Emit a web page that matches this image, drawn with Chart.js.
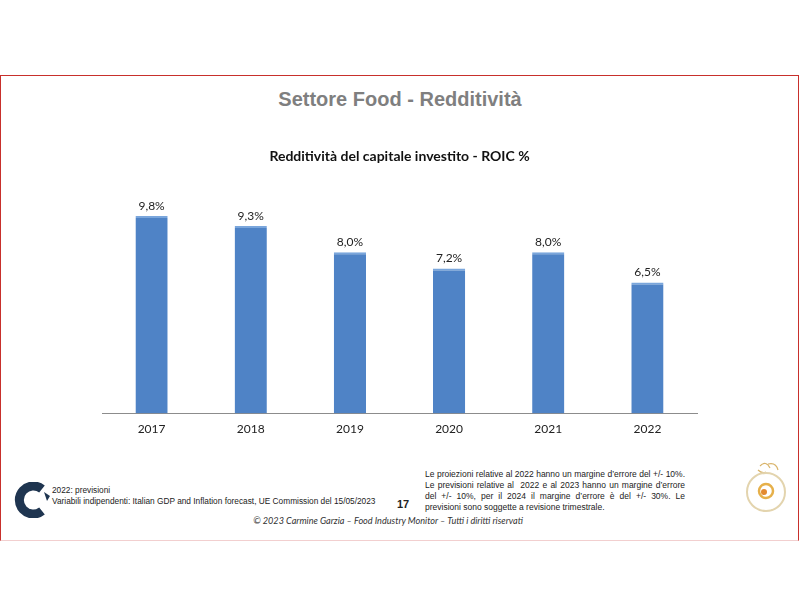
<!DOCTYPE html>
<html>
  <head>
    <title>Settore Food - Redditività</title>
    <script src="https://cdn.jsdelivr.net/npm/chart.js"></script>
    <style>
      body {
        margin: 0;
        width: 800px;
        height: 600px;
        background: #ffffff;
        position: relative;
        overflow: hidden;
        font-family: "Liberation Sans", Arial, sans-serif;
      }

      #frame {
        position: absolute;
        left: 0;
        top: 75px;
        width: 797px;
        height: 464px;
        border: 1.5px solid #c8302c;
        border-bottom-color: #f2cfcf;
      }

      #slideTitle {
        position: absolute;
        left: 0;
        top: 88px;
        width: 800px;
        text-align: center;
        font-size: 20px;
        font-weight: bold;
        color: #7f7f7f;
      }

      #chartBox {
        position: absolute;
        left: 0;
        top: 140px;
        width: 800px;
        height: 296px;
      }

      .note {
        position: absolute;
        font-size: 8.3px;
        color: #222;
        line-height: 11px;
      }

      #pageNum {
        position: absolute;
        left: 397px;
        top: 498px;
        font-size: 11px;
        font-weight: bold;
        color: #222;
      }

      #copyright {
        position: absolute;
        left: 0;
        top: 515px;
        width: 776px;
        text-align: center;
        font-family: Lato, "Open Sans", sans-serif;
        font-style: italic;
        font-size: 9.1px;
        color: #333;
      }

      #rightNote {
        left: 425px;
        top: 469px;
        width: 260px;
        font-size: 8.5px;
      }

      #rightNote div {
        text-align: justify;
        text-align-last: justify;
        white-space: nowrap;
      }

      #rightNote div.last {
        text-align-last: left;
      }
    </style>
  </head>
  <body>
    <div id="frame"></div>
    <div id="slideTitle">Settore Food - Redditività</div>

    <div id="chartBox">
      <canvas id="roicChart" width="800" height="296"></canvas>
    </div>

    <svg style="position: absolute; left: 12px; top: 482px" width="40" height="36">
      <path d="M30 7 A14 14 0 1 0 30 29" fill="none" stroke="#1f3550" stroke-width="9" />
      <path d="M32 10 L38 14 L35 19 Z" fill="#1f3550" />
    </svg>

    <div class="note" style="left: 52px; top: 485px">
      2022: previsioni<br />
      Variabili indipendenti: Italian GDP and Inflation forecast, UE Commission del 15/05/2023
    </div>

    <div id="pageNum">17</div>

    <div class="note" id="rightNote">
      <div>Le proiezioni relative al 2022 hanno un margine d’errore del +/- 10%.</div>
      <div>Le previsioni relative al&nbsp; 2022 e al 2023 hanno un margine d’errore</div>
      <div>del +/- 10%, per il 2024 il margine d’errore è del +/- 30%. Le</div>
      <div class="last">previsioni sono soggette a revisione trimestrale.</div>
    </div>

    <svg style="position: absolute; left: 740px; top: 458px" width="52" height="58">
      <path d="M20 8 Q26 2 30 10 M28 6 Q36 4 38 12 M18 12 Q22 16 26 14" fill="none" stroke="#d9b46a" stroke-width="1.2" />
      <circle cx="26" cy="34" r="19" fill="none" stroke="#e3d4ae" stroke-width="2" />
      <circle cx="26" cy="33" r="7" fill="none" stroke="#e6b04a" stroke-width="2.5" />
      <circle cx="24" cy="34" r="3" fill="#e38a30" />
    </svg>

    <div id="copyright">© 2023 Carmine Garzia – Food Industry Monitor – Tutti i diritti riservati</div>

    <script>
      // Data
      const years = ["2017", "2018", "2019", "2020", "2021", "2022"];
      const roicValues = [9.8, 9.3, 8.0, 7.2, 8.0, 6.5];

      // Format like the slide: comma decimals and a percent sign
      function formatPercent(v) {
        return v.toFixed(1).replace(".", ",") + "%";
      }

      // Plugin to write the value above each bar
      const valueLabels = {
        id: "valueLabels",
        afterDatasetsDraw(chart) {
          const ctx = chart.ctx;
          const meta = chart.getDatasetMeta(0);
          ctx.save();
          ctx.font = "12px Lato, 'Open Sans', sans-serif";
          ctx.fillStyle = "#222";
          ctx.textAlign = "center";
          ctx.textBaseline = "bottom";
          meta.data.forEach((bar, i) => {
            ctx.fillText(formatPercent(roicValues[i]), bar.x, bar.y - 4);
          });
          ctx.restore();
        },
      };

      function drawChart() {
        const ctx = document.getElementById("roicChart").getContext("2d");
        new Chart(ctx, {
          type: "bar",
          data: {
            labels: years,
            datasets: [
              {
                label: "ROIC %",
                data: roicValues,
                backgroundColor: "#4f83c6",
                borderColor: "#7aa6dc",
                borderWidth: { top: 2, left: 0, right: 0, bottom: 0 },
                borderSkipped: "bottom",
                barPercentage: 0.65,
                categoryPercentage: 0.5,
              },
            ],
          },
          options: {
            responsive: false,
            animation: false,
            layout: {
              padding: { left: 102, right: 103, top: 0, bottom: 0 },
            },
            plugins: {
              legend: { display: false },
              tooltip: { enabled: false },
              title: {
                display: true,
                text: "Redditività del capitale investito - ROIC %",
                color: "#111",
                font: { family: "Lato, 'Open Sans', sans-serif", size: 14, weight: "bold" },
                padding: { top: 8, bottom: 27 },
              },
            },
            scales: {
              x: {
                grid: { display: false },
                border: { display: true, color: "#8c8c8c", width: 1 },
                ticks: {
                  color: "#222",
                  padding: 0,
                  font: { family: "Lato, 'Open Sans', sans-serif", size: 12 },
                },
              },
              y: {
                display: false,
                min: 0,
                max: 11,
              },
            },
          },
          plugins: [valueLabels],
        });
      }

      drawChart();
    </script>
  </body>
</html>
